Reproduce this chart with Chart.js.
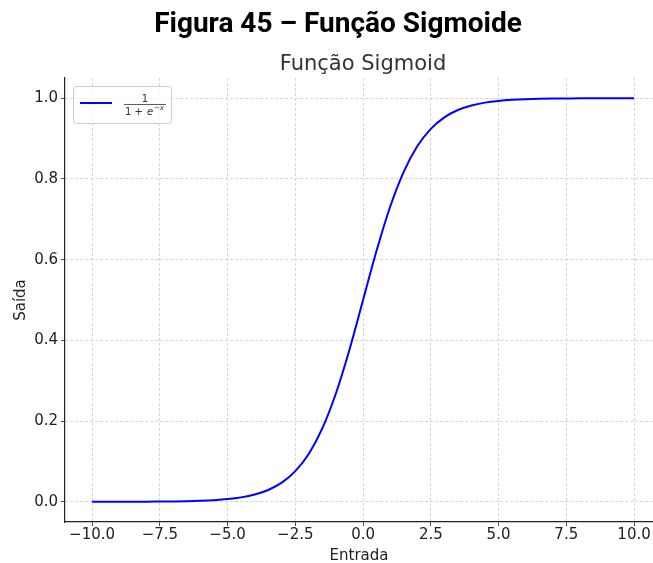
<!DOCTYPE html>
<html>
<head>
  <meta charset="utf-8" />
  <title>Função Sigmoide</title>
  <script src="https://cdn.jsdelivr.net/npm/chart.js"></script>
  <style>
    html, body {
      margin: 0;
      padding: 0;
      background: #fff;
    }
    #wrap {
      width: 653px;
      height: 563px;
    }
  </style>
</head>
<body>
  <div id="wrap"><canvas id="chart"></canvas></div>

  <script>
    // Titles and labels
    const figTitle = 'Figura 45 – Função Sigmoide';
    const chartTitle = 'Função Sigmoid';
    const xLabel = 'Entrada';
    const yLabel = 'Saída';

    // Points
    const xValues = [-10, -9.5, -9, -8.5, -8, -7.5, -7, -6.5, -6, -5.5, -5, -4.5, -4, -3.5, -3, -2.5, -2, -1.5, -1, -0.5,
                     0, 0.5, 1, 1.5, 2, 2.5, 3, 3.5, 4, 4.5, 5, 5.5, 6, 6.5, 7, 7.5, 8, 8.5, 9, 9.5, 10];
    const yValues = [0.0000, 0.0001, 0.0001, 0.0002, 0.0003, 0.0006, 0.0009, 0.0015, 0.0025, 0.0041, 0.0067, 0.0110, 0.0180, 0.0293, 0.0474, 0.0759, 0.1192, 0.1824, 0.2689, 0.3775,
                     0.5000, 0.6225, 0.7311, 0.8176, 0.8808, 0.9241, 0.9526, 0.9707, 0.9820, 0.9890, 0.9933, 0.9959, 0.9975, 0.9985, 0.9991, 0.9994, 0.9997, 0.9998, 0.9999, 0.9999, 1.0000];

    const xTicks = [-10, -7.5, -5, -2.5, 0, 2.5, 5, 7.5, 10];
    const yTicks = [0, 0.2, 0.4, 0.6, 0.8, 1.0];

    const lineColor = '#0000ff';
    const gridColor = '#cccccc';
    const textColor = '#222222';
    const tickFont = { family: 'DejaVu Sans', size: 15 };

    // titles + mathtext-like legend drawn on the canvas
    const decorations = {
      id: 'decorations',
      afterDraw(chart) {
        const ctx = chart.ctx;
        const area = chart.chartArea;
        ctx.save();

        ctx.fillStyle = '#000';
        ctx.textAlign = 'center';
        ctx.textBaseline = 'alphabetic';
        ctx.font = 'bold 28px "Roboto", sans-serif';
        ctx.fillText(figTitle, 338, 32);

        ctx.fillStyle = '#333';
        ctx.font = '21px "DejaVu Sans"';
        ctx.fillText(chartTitle, 363, 70);

        // legend box
        const bx = area.left + 8, by = area.top + 8, bw = 98, bh = 37;
        ctx.fillStyle = 'rgba(255,255,255,0.8)';
        ctx.strokeStyle = '#cccccc';
        ctx.lineWidth = 1;
        ctx.beginPath();
        ctx.roundRect(bx + 0.5, by + 0.5, bw, bh, 3);
        ctx.fill();
        ctx.stroke();

        ctx.strokeStyle = lineColor;
        ctx.lineWidth = 2;
        ctx.beginPath();
        ctx.moveTo(bx + 7, by + 17);
        ctx.lineTo(bx + 39, by + 17);
        ctx.stroke();

        const fx = bx + 72;
        ctx.fillStyle = '#333';
        ctx.font = '10px "DejaVu Sans"';
        ctx.fillText('1', fx, by + 16);
        ctx.strokeStyle = '#333';
        ctx.lineWidth = 0.8;
        ctx.beginPath();
        ctx.moveTo(fx - 21, by + 18.5);
        ctx.lineTo(fx + 21, by + 18.5);
        ctx.stroke();
        ctx.textAlign = 'left';
        ctx.font = '10px "DejaVu Sans"';
        ctx.fillText('1 + ', fx - 20, by + 29);
        ctx.font = 'italic 10px "DejaVu Sans"';
        ctx.fillText('e', fx + 2, by + 29);
        ctx.font = 'italic 7px "DejaVu Sans"';
        ctx.fillText('−x', fx + 9, by + 24);

        ctx.restore();
      }
    };

    new Chart(document.getElementById('chart'), {
      type: 'line',
      data: {
        datasets: [{
          label: '1/(1+e^-x)',
          data: xValues.map((x, i) => ({ x: x, y: yValues[i] })),
          borderColor: lineColor,
          borderWidth: 2,
          pointRadius: 0,
          cubicInterpolationMode: 'monotone',
          fill: false
        }]
      },
      options: {
        responsive: true,
        maintainAspectRatio: false,
        animation: false,
        layout: { padding: { top: 78, right: 0, left: 0, bottom: 0 } },
        plugins: {
          legend: { display: false },
          tooltip: { enabled: false }
        },
        scales: {
          x: {
            type: 'linear',
            min: -11,
            max: 10.7,
            afterBuildTicks: (axis) => { axis.ticks = xTicks.map(v => ({ value: v })); },
            afterFit: (axis) => { axis.height = 41; },
            ticks: {
              color: textColor,
              font: tickFont,
              padding: 0,
              maxRotation: 0,
              callback: (v) => v.toFixed(1).replace('-', '−')
            },
            grid: { color: gridColor, tickColor: '#222', tickLength: 4, lineWidth: 0.8 },
            border: { display: true, color: '#222', width: 1.2, dash: [3, 2] },
            title: { display: true, text: xLabel, color: textColor, font: { family: 'DejaVu Sans', size: 15 }, padding: { top: 0, bottom: -2 } }
          },
          y: {
            min: -0.05,
            max: 1.05,
            afterBuildTicks: (axis) => { axis.ticks = yTicks.map(v => ({ value: v })); },
            afterFit: (axis) => { axis.width = 65; },
            ticks: {
              color: textColor,
              font: tickFont,
              padding: 3,
              callback: (v) => v.toFixed(1)
            },
            grid: { color: gridColor, tickColor: '#222', tickLength: 4, lineWidth: 0.8 },
            border: { display: true, color: '#222', width: 1.2, dash: [3, 2] },
            title: { display: true, text: yLabel, color: textColor, font: { family: 'DejaVu Sans', size: 15 }, padding: { top: 12, bottom: 0 } }
          }
        }
      },
      plugins: [decorations]
    });
  </script>
</body>
</html>
